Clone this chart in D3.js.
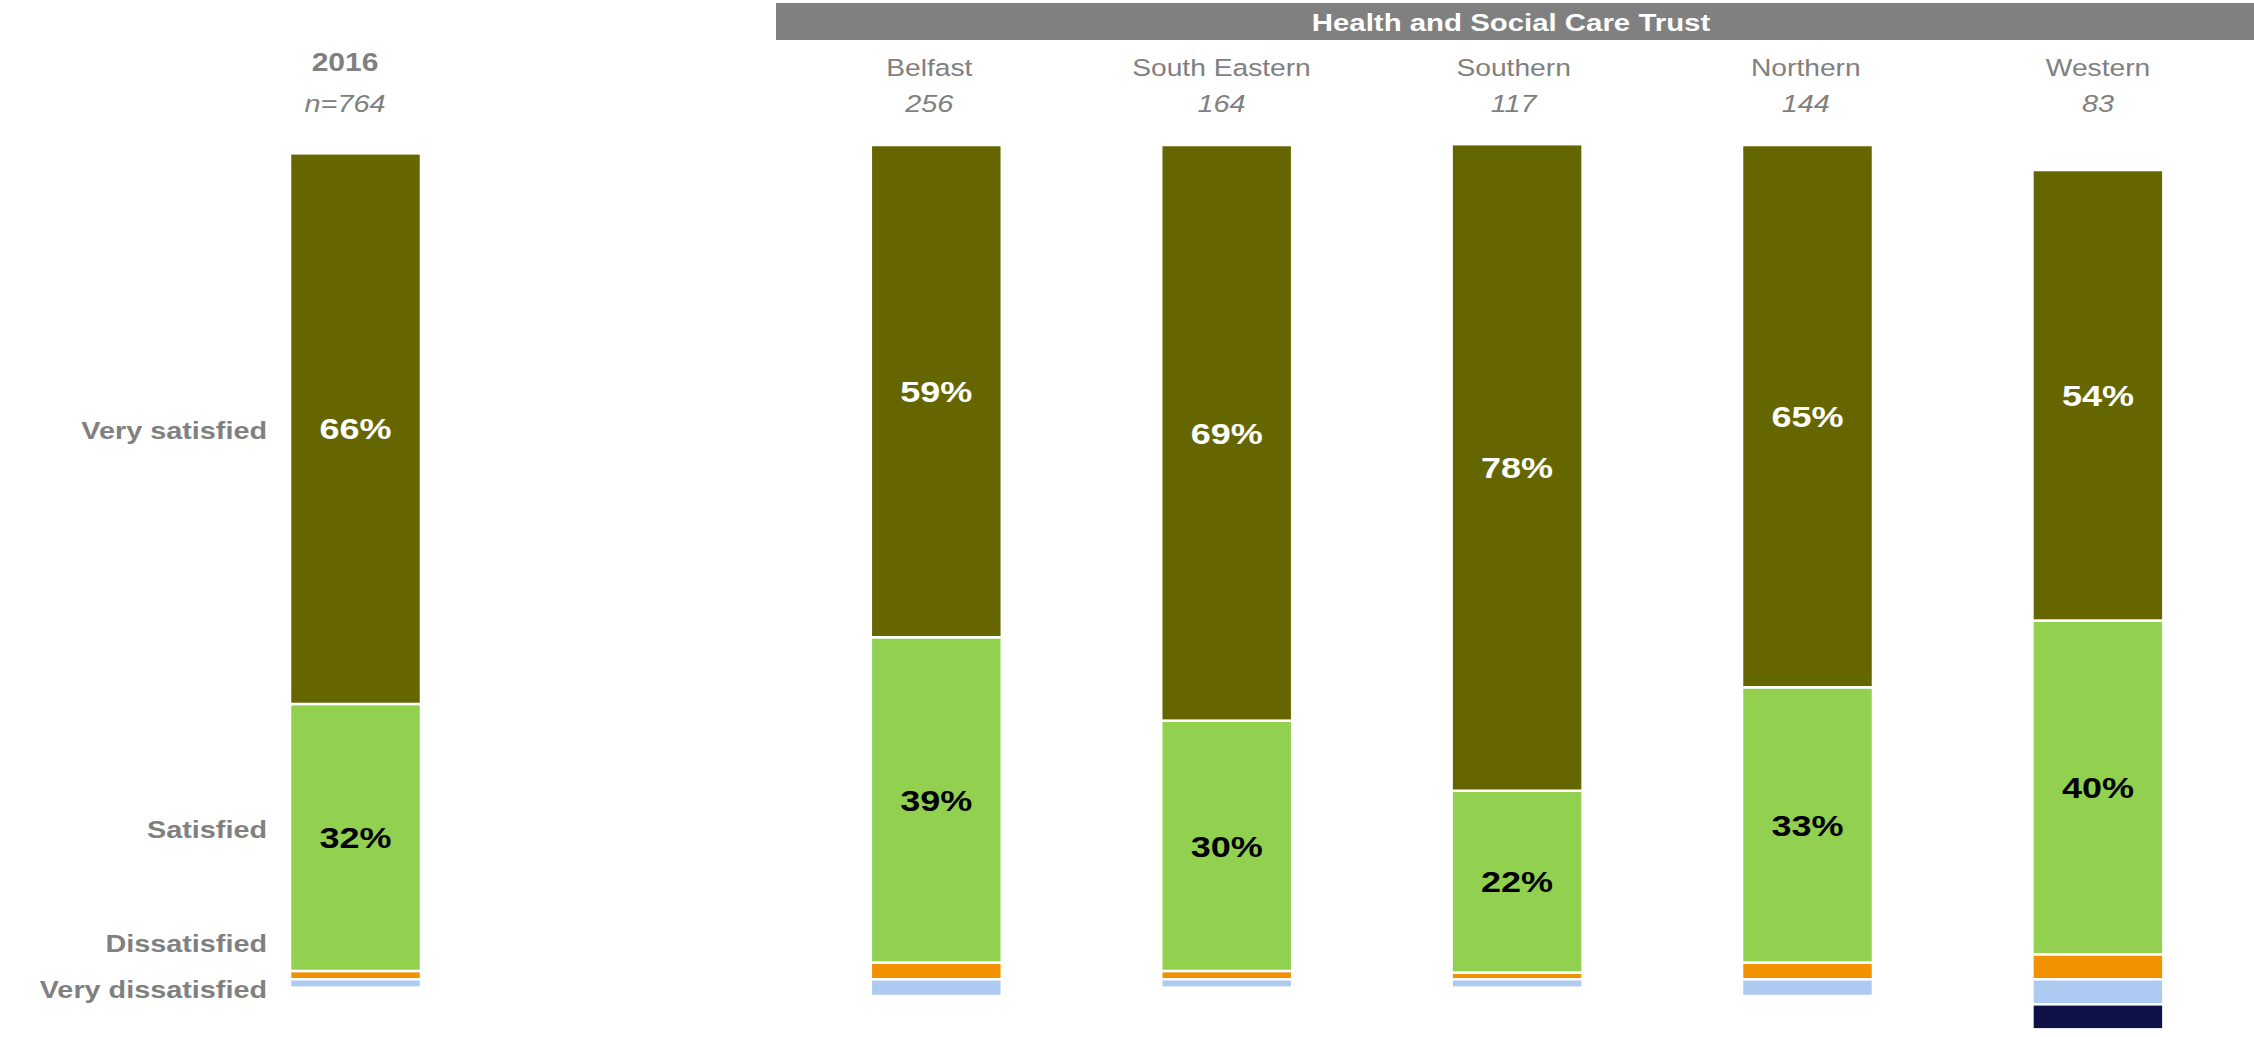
<!DOCTYPE html>
<html>
<head>
<meta charset="utf-8">
<script src="https://cdn.jsdelivr.net/npm/d3@7"></script>
<style>
  html, body { margin: 0; padding: 0; background: #ffffff; }
  svg { display: block; font-family: "Liberation Sans", Arial, sans-serif; }
</style>
</head>
<body>
<svg id="chart" width="2254" height="1037"></svg>
<script>
// ---- data ----
const categories = ["2016", "Belfast", "South Eastern", "Southern", "Northern", "Western"];
const sampleSizes = ["n=764", "256", "164", "117", "144", "83"];
const seriesNames = ["Very satisfied", "Satisfied", "Dissatisfied", "Very dissatisfied", "Don't know"];
const verySatisfied = [66, 59, 69, 77.5, 65, 54];
const satisfied = [32, 39, 30, 21.8, 33, 40];
const dissatisfied = [1, 2, 1, 0.8, 2, 3];
const veryDissatisfied = [1, 2, 1, 1, 2, 3];
const dontKnow = [0, 0, 0, 0, 0, 3];
const groupTitle = "Health and Social Care Trust";

// ---- layout ----
const W = 2254, H = 1037;
const STRETCH = 1.2; // horizontal text stretch seen in the reference
const colors = {
  "Very satisfied": "#666600",
  "Satisfied": "#92D050",
  "Dissatisfied": "#F39200",
  "Very dissatisfied": "#ADCBF1",
  "Don't know": "#0E1246"
};
const labelColors = { "Very satisfied": "#ffffff", "Satisfied": "#000000" };
const textGray = "#808080";

const svg = d3.select("#chart");

function place(sel, fx, fy) {
  return sel.attr("x", 0).attr("y", 0)
    .attr("transform", (d, i) => `translate(${fx(d, i)},${fy(d, i)}) scale(${STRETCH},1)`);
}

const bandDomain = [categories[0], "__gap__", ...categories.slice(1)];
const x = d3.scaleBand().domain(bandDomain).range([210.3, 2243.1])
  .paddingInner(0.549).paddingOuter(0.2745);
// column headings sit on a slightly wider grid than the bars
const xHead = d3.scalePoint().domain(bandDomain).range([345, 2098]);
const y = d3.scaleLinear().domain([0, 100]).range([979.3, 145]);

// build stacked segments: positive above baseline, negative below
const segs = [];
categories.forEach((c, i) => {
  let up = 0;
  [["Dissatisfied", dissatisfied[i]], ["Satisfied", satisfied[i]], ["Very satisfied", verySatisfied[i]]]
    .forEach(([k, v]) => { segs.push({ cat: c, i, key: k, v, y0: up, y1: up + v }); up += v; });
  let down = 0;
  [["Very dissatisfied", veryDissatisfied[i]], ["Don't know", dontKnow[i]]]
    .forEach(([k, v]) => { segs.push({ cat: c, i, key: k, v, y0: down - v, y1: down }); down -= v; });
});

svg.append("g").selectAll("rect").data(segs.filter(d => d.v > 0)).join("rect")
  .attr("x", d => x(d.cat))
  .attr("width", x.bandwidth())
  .attr("y", d => y(d.y1))
  .attr("height", d => y(d.y0) - y(d.y1))
  .attr("fill", d => colors[d.key])
  .attr("stroke", "#ffffff")
  .attr("stroke-width", 2.5);

// value labels for the two satisfied series
place(svg.append("g").selectAll("text")
  .data(segs.filter(d => labelColors[d.key] && d.v > 0)).join("text"),
  d => x(d.cat) + x.bandwidth() / 2, d => y((d.y0 + d.y1) / 2))
  .attr("dy", "0.36em")
  .attr("text-anchor", "middle")
  .attr("font-size", 30)
  .attr("font-weight", "bold")
  .attr("fill", d => labelColors[d.key])
  .text(d => Math.round(d.v) + "%");

// series labels on the left, next to the 2016 bar
const labelNudge = { "Very satisfied": 2, "Satisfied": -8, "Dissatisfied": -32, "Very dissatisfied": 6, "Don't know": 0 };
place(svg.append("g").selectAll("text")
  .data(segs.filter(d => d.i === 0 && d.v > 0)).join("text"),
  d => 267, d => y((d.y0 + d.y1) / 2) + labelNudge[d.key])
  .attr("dy", "0.36em")
  .attr("text-anchor", "end")
  .attr("font-size", 24)
  .attr("font-weight", "bold")
  .attr("fill", textGray)
  .text(d => d.key);

// group header
const hx0 = 776, hx1 = W;
svg.append("rect").attr("x", hx0).attr("y", 3).attr("width", hx1 - hx0).attr("height", 37).attr("fill", "#808080");
place(svg.append("text"), () => (hx0 + hx1) / 2 - 4, () => 31)
  .attr("text-anchor", "middle").attr("font-size", 24.5).attr("font-weight", "bold")
  .attr("fill", "#ffffff").text(groupTitle);

// column headers
const heads = svg.append("g").selectAll("g").data(categories).join("g")
  .attr("transform", c => `translate(${xHead(c)},0)`);
heads.append("text")
  .attr("transform", (c, i) => `translate(0,${i === 0 ? 71 : 76}) scale(${STRETCH},1)`)
  .attr("text-anchor", "middle")
  .attr("font-size", (c, i) => i === 0 ? 25 : 23.5)
  .attr("font-weight", (c, i) => i === 0 ? "bold" : "normal")
  .attr("fill", textGray).text(c => c);
heads.append("text")
  .attr("transform", `translate(0,112) scale(${STRETCH},1)`)
  .attr("text-anchor", "middle").attr("font-size", 24)
  .attr("font-style", "italic")
  .attr("fill", textGray).text((c, i) => sampleSizes[i]);
</script>
</body>
</html>
